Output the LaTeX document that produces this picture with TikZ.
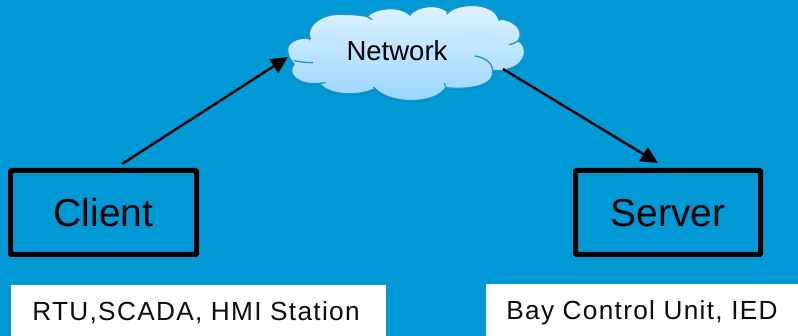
\documentclass[tikz,border=0pt]{standalone}
\usepackage{fontspec}
\setmainfont{Liberation Sans}
\newfontfamily\spaced[LetterSpace=5]{Liberation Sans}
\usetikzlibrary{arrows.meta,positioning}
\definecolor{bgblue}{RGB}{0,153,214}
\definecolor{cloudtop}{RGB}{224,243,255}
\definecolor{cloudbot}{RGB}{150,212,255}
\definecolor{cloudedge}{RGB}{30,150,205}
\definecolor{cloudshadow}{RGB}{0,125,180}
\def\cloudpath{(53,150) .. controls (50,128) and (85,110) .. (120,115)
  .. controls (106,82) and (150,40) .. (215,43) .. controls (245,43) and (280,46) .. (292,50)
  .. controls (305,28) and (385,12) .. (420,45)
  .. controls (440,18) and (505,8) .. (535,37)
  .. controls (570,6) and (672,8) .. (686,57)
  .. controls (730,58) and (765,90) .. (745,122)
  .. controls (775,140) and (770,190) .. (720,205) .. controls (705,212) and (685,214) .. (668,212)
  .. controls (675,248) and (620,272) .. (527,263)
  .. controls (500,310) and (370,318) .. (315,266)
  .. controls (260,292) and (170,284) .. (150,250)
  .. controls (88,257) and (48,225) .. (72,192) .. controls (60,180) and (53,165) .. (53,150) -- cycle}
\tikzset{
  hardbox/.style={draw=black,line width=5pt,rounded corners=1pt,minimum width=186pt,minimum height=84pt,inner sep=0pt,text height=29pt,text depth=0pt,font=\fontsize{39}{40}\selectfont,text=black},
  whitebox/.style={fill=white,inner sep=0pt,font=\spaced\fontsize{26.2}{28}\selectfont,text=black!95},
  arrowline/.style={draw=black,line width=2.4pt,-{Triangle[length=17pt,width=16pt]}},
  cloudline/.style={draw=cloudedge,line width=1.3pt,line cap=round}
}
\begin{document}
\begin{tikzpicture}[x=1pt,y=-1pt]
\useasboundingbox (0,0) rectangle (798,336);
\fill[bgblue] (0,0) rectangle (798,336);
\begin{scope}[shift={(270,0)},x=0.3333pt,y=-0.3333pt]
  \fill[cloudshadow,opacity=.6,yshift=-1.5pt] \cloudpath;
  \shade[top color=cloudtop,bottom color=cloudbot,draw=cloudedge,line width=1.3pt] \cloudpath;
  \draw[cloudline] (72,182) .. controls (90,186) and (110,188) .. (128,188);
  \draw[cloudline] (120,115) -- (118,120);
  \draw[cloudline] (615,168) .. controls (645,172) and (668,190) .. (668,212);
  \draw[cloudline] (745,122) .. controls (738,128) and (728,132) .. (718,134);
  \draw[cloudline] (150,250) -- (165,248);
  \draw[cloudline] (686,57) -- (688,62);
  \draw[cloudline] (535,37) -- (530,42);
  \draw[cloudline] (420,45) -- (418,40);
  \draw[cloudline] (292,50) -- (305,58);
  \draw[cloudline] (527,263) -- (524,250);
  \draw[cloudline] (315,266) -- (310,262);
\end{scope}
\node[inner sep=0pt,text height=20pt,text depth=0pt,font=\fontsize{27.5}{30}\selectfont,text=black] (net) at (397,51) {Network};
\coordinate (netin) at (288,57);
\coordinate (netout) at (503,69);
\node[hardbox] (client) at (103.5,212.5) {Client};
\node[hardbox,minimum width=185pt] (server) at (668,212.5) {Server};
\coordinate (clientout) at (122,164);
\coordinate (serverin) at (658,163);
\node[whitebox,minimum width=375pt,minimum height=51pt,text height=21pt,text depth=0pt] (clientlabel) at (198.5,310.5) {RTU,SCADA, HMI Station\hspace*{5pt}};
\node[whitebox,minimum width=312pt,minimum height=52pt,text height=20pt,text depth=0pt] (serverlabel) at (642,310) {Bay Control Unit, IED};
\draw[arrowline] (clientout) -- (netin);
\draw[arrowline] (netout) -- (serverin);
\end{tikzpicture}
\end{document}
